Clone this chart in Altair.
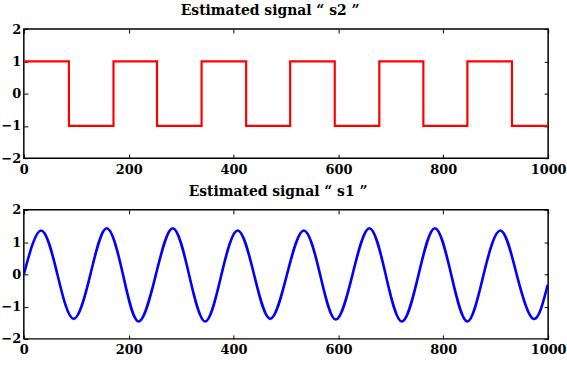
import altair as alt
import pandas as pd

# ---- data ----
# Estimated signal s2 (square wave): breakpoints and level starting there
s2_x = [0, 86, 171, 254, 339, 424, 508, 593, 678, 762, 846, 931, 1000]
s2_y = [1, -1, 1, -1, 1, -1, 1, -1, 1, -1, 1, -1, -1]

# Estimated signal s1 (sinusoid): start, peaks, zero crossings, troughs, end
s1_x = [0, 33, 64, 95, 127, 158, 189, 219, 252, 284, 315, 346, 377, 408, 439, 470,
        502, 534, 565, 595, 627, 659, 690, 721, 753, 784, 815, 846, 877, 909, 940, 972, 999]
s1_y = [0, 1.36, 0, -1.38, 0, 1.43, 0, -1.46, 0, 1.43, 0, -1.46, 0, 1.36, 0, -1.38,
        0, 1.36, 0, -1.40, 0, 1.43, 0, -1.46, 0, 1.43, 0, -1.46, 0, 1.36, 0, -1.38, -0.33]

x_ticks = [0, 200, 400, 600, 800, 1000]
y_ticks = [-2, -1, 0, 1, 2]
title_s2 = "Estimated signal \u201c s2 \u201d"
title_s1 = "Estimated signal \u201c s1 \u201d"

FONT = "DejaVu Serif"
W, H = 528, 130


def label_axis(orient, values, pad):
    return alt.Axis(orient=orient, values=values, format="d", title=None,
                    domain=False, ticks=True, tickSize=4, offset=-4,
                    tickColor="black", tickWidth=1,
                    labelPadding=pad, labelFont=FONT, labelFontSize=13,
                    labelFontWeight="bold", labelColor="black",
                    labelFlush=False, labelOverlap=False, grid=False)


def tick_axis(orient, values):
    return alt.Axis(orient=orient, values=values, title=None, labels=False,
                    domain=False, ticks=True, tickSize=4, offset=-4,
                    tickColor="black", tickWidth=1, grid=False)


def panel(df, color, sw, interp, title, dx):
    xs = alt.Scale(domain=[0, 1000], nice=False, zero=False)
    ys = alt.Scale(domain=[-2, 2], nice=False, zero=False)
    main = alt.Chart(df).mark_line(color=color, strokeWidth=sw, interpolate=interp,
                                   clip=True).encode(
        x=alt.X("x:Q", scale=xs, axis=label_axis("bottom", x_ticks, 5)),
        y=alt.Y("y:Q", scale=ys, axis=label_axis("left", y_ticks, 3)),
    )
    ghost = alt.Chart(df).mark_line(opacity=0).encode(
        x=alt.X("x:Q", scale=xs, axis=tick_axis("top", x_ticks)),
        y=alt.Y("y:Q", scale=ys, axis=tick_axis("right", y_ticks)),
    )
    return alt.layer(main, ghost).resolve_axis(x="independent", y="independent").properties(
        width=W, height=H,
        view=alt.ViewBackground(stroke="black", strokeWidth=1.5, fill="white"),
        title=alt.TitleParams(title, font=FONT, fontSize=14, fontWeight="bold",
                              color="black", dx=dx, offset=5),
    )


df2 = pd.DataFrame({"x": s2_x, "y": s2_y})
df1 = pd.DataFrame({"x": s1_x, "y": s1_y})

top = panel(df2, "#ff0000", 2.2, "step-after", title_s2, -16)
bottom = panel(df1, "#0000ff", 2.6, "natural", title_s1, -8)

chart = alt.vconcat(top, bottom, spacing=7).properties(
    padding={"left": 0, "top": 2, "right": 0, "bottom": 0}
).configure_view(stroke="black", strokeWidth=1.5).configure(background="white")

chart.save("out.html", embed_options={"renderer": "svg", "actions": False})
